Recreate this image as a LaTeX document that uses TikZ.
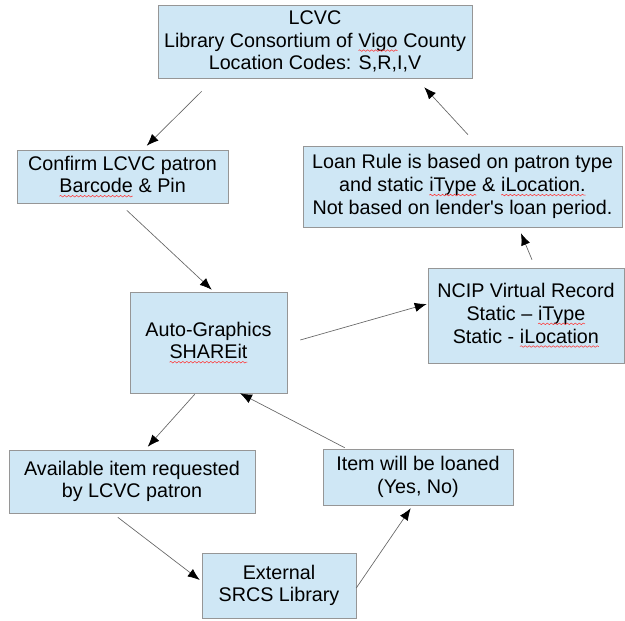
\documentclass[tikz,border=0pt]{standalone}
\usepackage{fontspec}
\setmainfont{Liberation Sans}
\usetikzlibrary{arrows.meta,decorations.pathmorphing}

\definecolor{boxblue}{RGB}{207,231,245}
\definecolor{boxline}{RGB}{150,150,150}

% red spell-check wave under a word
\newcommand\spellwave[1]{\tikz[baseline=(w.base)]{%
    \node[draw=none, fill=none, inner sep=0pt, outer sep=0pt,
        minimum width=0pt, minimum height=0pt, anchor=center] (w) {#1};%
    \draw[red!80, fill=none, line width=0.4pt, decorate,
        decoration={snake, amplitude=0.6pt, segment length=3pt}]
        ([yshift=-2.6pt]w.base west) -- ([yshift=-2.6pt]w.base east);}}

\tikzset{
    card/.style={draw=boxline, fill=boxblue, align=center, inner sep=0pt,
        font=\fontsize{14.8}{17}\selectfont},
    link/.style={draw=gray!80!black, line width=0.5pt,
        -{Latex[length=9pt,width=7pt,color=black]}}
}

\begin{document}
\begin{tikzpicture}[x=0.75pt,y=-0.75pt]
    \useasboundingbox (0,0) rectangle (625,621);

    % boxes
    \node[card, minimum width=235.5pt, minimum height=54.75pt] (lcvc) at (315,41.5)
        {LCVC\\Library Consortium of \spellwave{Vigo} County\\Location Codes: S,R,I,V};
    \node[card, minimum width=158.25pt, minimum height=39.75pt] (confirm) at (122.5,176.5)
        {Confirm LCVC patron\\\spellwave{Barcode} \& Pin};
    \node[card, minimum width=239.25pt, minimum height=60.75pt] (loan) at (462.5,186.5)
        {Loan Rule is based on patron type\\and static \spellwave{iType} \& \spellwave{iLocation.}\\Not based on lender\textquotesingle s loan period.};
    \node[card, minimum width=117.75pt, minimum height=75.75pt] (auto) at (208.5,342.5)
        {Auto-Graphics\\\spellwave{SHAREit}};
    \node[card, minimum width=147pt, minimum height=71.25pt] (ncip) at (526,315.5)
        {NCIP Virtual Record\\Static – \spellwave{iType}\\Static - \spellwave{iLocation}};
    \node[card, minimum width=184.5pt, minimum height=47.25pt] (avail) at (132,481.5)
        {Available item requested\\by LCVC patron};
    \node[card, minimum width=142.5pt, minimum height=42pt] (item) at (418,477)
        {Item will be loaned\\(Yes, No)};
    \node[card, minimum width=115.5pt, minimum height=48.75pt] (ext) at (279,585.5)
        {External\\SRCS Library};

    % arrows
    \draw[link] ([shift={(44,13)}]lcvc.south west) -- ([shift={(130,-4)}]confirm.north west);
    \draw[link] ([shift={(110,7)}]confirm.south west) -- ([shift={(82,-2)}]auto.north west);
    \draw[link] ([shift={(13,-2.5)}]auto.east) -- ([shift={(-1,-11.5)}]ncip.west);
    \draw[link] ([shift={(6,-8)}]ncip.north) -- ([shift={(58.5,6)}]loan.south);
    \draw[link] ([shift={(5.5,-11)}]loan.north) -- ([shift={(-48,9)}]lcvc.south east);
    \draw[link] ([shift={(65,1)}]auto.south west) -- ([shift={(139,-3)}]avail.north west);
    \draw[link] ([shift={(109,4)}]avail.south west) -- ([shift={(-2,-5.5)}]ext.west);
    \draw[link] ([shift={(0,2.5)}]ext.east) -- ([shift={(88,3)}]item.south west);
    \draw[link] ([shift={(22,-1)}]item.north west) -- ([shift={(31.5,0)}]auto.south);
\end{tikzpicture}
\end{document}
